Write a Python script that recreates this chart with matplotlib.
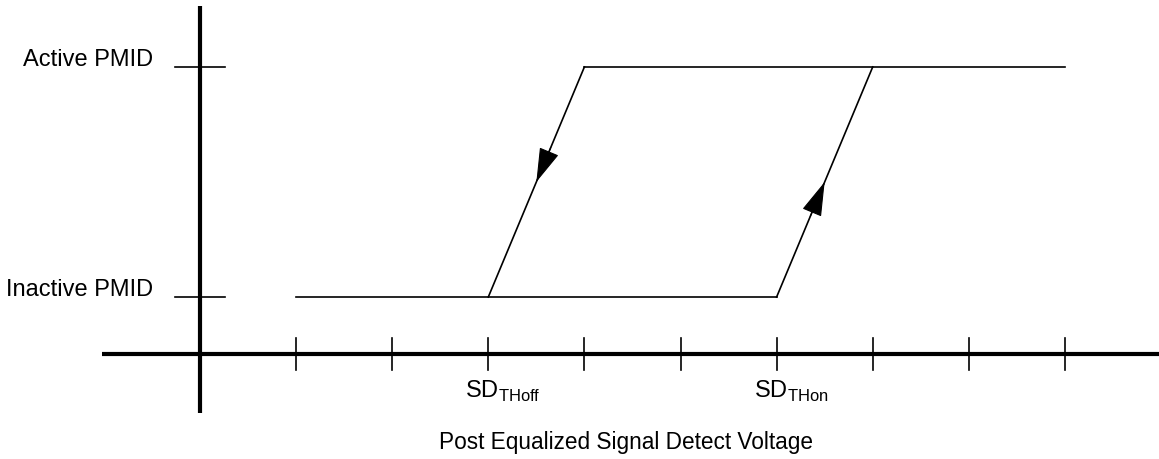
import matplotlib.pyplot as plt

plt.rcParams['font.family'] = ['Liberation Sans', 'DejaVu Sans']
plt.rcParams['mathtext.fontset'] = 'custom'
plt.rcParams['mathtext.rm'] = 'Liberation Sans'

# hysteresis loop, x in tick units, y: 0 = inactive, 1 = active
lower_x = [1, 6]
upper_x = [4, 9]
off_x = [3, 4]   # falling edge at SD_THoff
on_x = [6, 7]    # rising edge at SD_THon
levels = [0, 1]
level_labels = ["Inactive PMID", "Active PMID"]
x_ticks = [1, 2, 3, 4, 5, 6, 7, 8, 9]
x_labels = {3: r"SD$_{\rm THoff}$", 6: r"SD$_{\rm THon}$"}

fig = plt.figure(figsize=(11.59, 4.59), dpi=100)
ax = fig.add_axes([0, 0, 1, 1])
ax.set_xlim(-2.081, 9.979)
ax.set_ylim(-0.704, 1.291)
ax.axis("off")

lw = 1.2
ax.plot(lower_x, [0, 0], color="black", lw=lw)
ax.plot(upper_x, [1, 1], color="black", lw=lw)
ax.plot(off_x, [0, 1], color="black", lw=lw)
ax.plot(on_x, [0, 1], color="black", lw=lw)

# direction arrows, tips at the middle of each edge, drawn along the edge
head = dict(arrowstyle="-|>,head_length=1.1,head_width=0.33", color="black",
            lw=0.8, mutation_scale=20, shrinkA=0, shrinkB=0)
ax.annotate("", xy=(3.5, 0.5), xytext=(3.65, 0.65), arrowprops=head)
ax.annotate("", xy=(6.5, 0.5), xytext=(6.35, 0.35), arrowprops=head)

# axes
ax.plot([-1.02, 9.98], [-0.248, -0.248], color="black", lw=3, solid_capstyle="butt")
ax.plot([0, 0], [-0.504, 1.265], color="black", lw=3, solid_capstyle="butt")

for t in x_ticks:
    ax.plot([t, t], [-0.178, -0.317], color="black", lw=lw)
    if t in x_labels:
        ax.text(t + 0.15, -0.44, x_labels[t], fontsize=17, ha="center", va="baseline")

for lv, lab in zip(levels, level_labels):
    ax.plot([-0.26, 0.26], [lv, lv], color="black", lw=lw)
    ax.text(-0.49, lv + 0.005, lab, fontsize=17, ha="right", va="baseline")

ax.text(4.43, -0.66, "Post Equalized Signal Detect Voltage", fontsize=16.3,
        ha="center", va="baseline")

fig.savefig("out.png", dpi=100)
